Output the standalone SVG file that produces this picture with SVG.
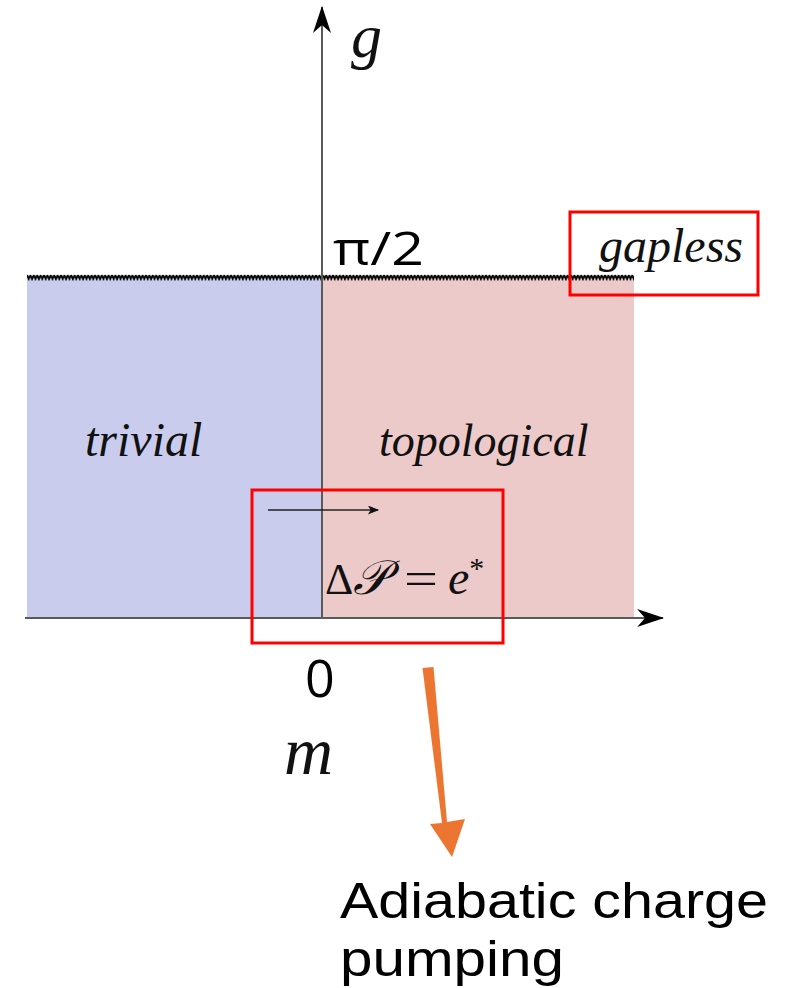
<svg xmlns="http://www.w3.org/2000/svg" width="785" height="988" viewBox="0 0 785 988">
<style>
.it{font-family:"Liberation Serif","DejaVu Serif",serif;font-style:italic;fill:#111}
.sans{font-family:"Open Sans","Liberation Sans",sans-serif;fill:#000}
.cap{font-family:"Liberation Sans","Open Sans",sans-serif;fill:#000}
.ax{stroke:#5a5a5a;stroke-width:2;fill:none}
.box{fill:none;stroke:#ff0000;stroke-width:3}
</style>
<defs>
<marker id="ah" viewBox="0 0 10 8" refX="9" refY="4" markerWidth="13" markerHeight="9" markerUnits="userSpaceOnUse" orient="auto">
<path d="M0,0 L10,4 L0,8 L2.5,4 Z" fill="#111"/>
</marker>
<marker id="ahBig" viewBox="0 0 12 8" refX="11.5" refY="4" markerWidth="27" markerHeight="18" markerUnits="userSpaceOnUse" orient="auto">
<path d="M0,0 L12,4 L0,8 L3.5,4 Z" fill="#000"/>
</marker>
<pattern id="zig" x="27" y="272" width="3.4" height="10" patternUnits="userSpaceOnUse">
<path d="M0,3 L1.7,7 L3.4,3" fill="none" stroke="#000" stroke-width="1.8"/>
</pattern>
</defs>
<g id="regions">
<rect id="trivial-region" x="27" y="278" width="295" height="340" fill="#c9cced"/>
<rect id="topological-region" x="322" y="278" width="312" height="340" fill="#edcaca"/>
<rect id="gapless-line" x="27" y="272" width="607" height="9" fill="url(#zig)"/>
</g>
<g id="connectors">
<line class="ax" x1="322" y1="618" x2="322" y2="7" marker-end="url(#ahBig)"/>
<line class="ax" x1="25" y1="618" x2="663" y2="618" marker-end="url(#ahBig)"/>
<line x1="268" y1="510" x2="378" y2="510" stroke="#222" stroke-width="1.5" marker-end="url(#ah)"/>
<g id="orange-arrow">
<path d="M422.5,668 L433.5,667 L447,822 L465,819 L452,857 L430,824 L442,823 Z" fill="#ed7532"/>
</g>
</g>
<g id="label-g"><text class="it" x="351" y="57" font-size="62">g</text></g>
<g id="label-pi2"><text class="sans" x="333" y="265" font-size="46" textLength="91" lengthAdjust="spacingAndGlyphs">π/2</text></g>
<g id="label-gapless"><text class="it" x="599" y="262" font-size="48">gapless</text></g>
<g id="label-trivial"><text class="it" x="85" y="456" font-size="48">trivial</text></g>
<g id="label-topological"><text class="it" x="379" y="456" font-size="46">topological</text></g>
<g id="label-dP" font-family="Liberation Serif,DejaVu Serif,serif" fill="#111">
<text x="325" y="594" font-size="44">Δ<tspan font-size="48" font-style="italic">𝒫</tspan></text>
<text x="404" y="594" font-size="46" textLength="34" lengthAdjust="spacingAndGlyphs">=</text>
<text x="448" y="594" font-size="48" font-style="italic">e<tspan font-style="normal" font-size="30" dy="-16">*</tspan></text>
</g>
<g id="label-0"><text class="sans" x="305" y="697" font-size="52">0</text></g>
<g id="label-m"><text class="it" x="284" y="774" font-size="68">m</text></g>
<g id="highlight-gapless"><rect class="box" x="570" y="212" width="188" height="83"/></g>
<g id="highlight-pump"><rect class="box" x="252" y="490" width="251" height="153"/></g>
<g id="label-pumping"><text class="cap" font-size="50"><tspan x="340" y="918" textLength="428" lengthAdjust="spacingAndGlyphs">Adiabatic charge</tspan><tspan x="340" y="976" textLength="224" lengthAdjust="spacingAndGlyphs">pumping</tspan></text></g>
</svg>
